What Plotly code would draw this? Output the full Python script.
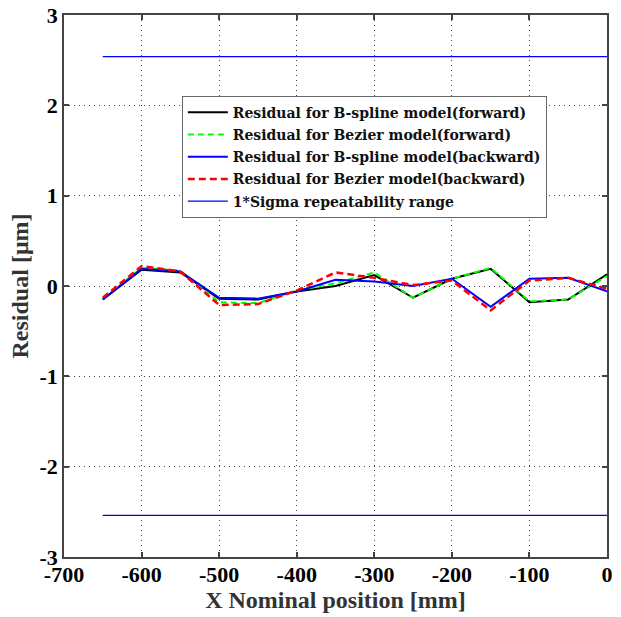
import plotly.graph_objects as go

x_pos = [-650, -600, -550, -500, -450, -400, -350, -300, -250, -200, -150, -100, -50, 0]
bspline_fwd = [-0.15, 0.18, 0.15, -0.14, -0.15, -0.06, 0.00, 0.12, -0.13, 0.08, 0.19, -0.18, -0.15, 0.13]
bezier_fwd = [-0.14, 0.20, 0.17, -0.18, -0.19, -0.05, 0.03, 0.15, -0.13, 0.08, 0.20, -0.17, -0.15, 0.11]
bspline_bwd = [-0.15, 0.19, 0.16, -0.13, -0.14, -0.06, 0.07, 0.05, 0.00, 0.08, -0.23, 0.08, 0.09, -0.06]
bezier_bwd = [-0.13, 0.22, 0.16, -0.21, -0.20, -0.05, 0.15, 0.09, 0.01, 0.06, -0.27, 0.06, 0.09, -0.03]
sigma_x = [-650, 0]
sigma_val = 2.54

x_ticks = [-700, -600, -500, -400, -300, -200, -100, 0]
x_tick_text = ["-700", "-600", "-500", "-400", "-300", "-200", "-100", "0"]
y_ticks = [-3, -2, -1, 0, 1, 2, 3]
y_tick_text = ["-3", "-2", "-1", "0", "1", "2", "3"]

names = [
    "Residual for B-spline model(forward)",
    "Residual for Bezier model(forward)",
    "Residual for B-spline model(backward)",
    "Residual for Bezier model(backward)",
    "1*Sigma repeatability range",
]

FONT = "Liberation Serif, Times New Roman, serif"
LEG_FONT = "DejaVu Serif, serif"

fig = go.Figure()
fig.add_trace(go.Scatter(x=x_pos, y=bspline_fwd, mode="lines", name=names[0], legendgroup="g1",
                         line=dict(color="#000000", width=2)))
fig.add_trace(go.Scatter(x=x_pos, y=bezier_fwd, mode="lines", name=names[1], legendgroup="g2",
                         line=dict(color="#00ff00", width=2, dash="6px,4px")))
fig.add_trace(go.Scatter(x=x_pos, y=bspline_bwd, mode="lines", name=names[2], legendgroup="g3",
                         line=dict(color="#0000ff", width=2)))
fig.add_trace(go.Scatter(x=x_pos, y=bezier_bwd, mode="lines", name=names[3], legendgroup="g4",
                         line=dict(color="#ff0000", width=2.5, dash="7px,4px")))
fig.add_trace(go.Scatter(x=sigma_x, y=[sigma_val, sigma_val], mode="lines", name=names[4],
                         legendgroup="g5", line=dict(color="#0000ff", width=1.2)))
fig.add_trace(go.Scatter(x=sigma_x, y=[-sigma_val, -sigma_val], mode="lines", name=names[4],
                         legendgroup="g5", showlegend=False, line=dict(color="#0000ff", width=1.2)))

axis_common = dict(
    showline=True, linecolor="#444444", linewidth=1.5, mirror="ticks",
    ticks="inside", ticklen=5, tickcolor="#444444", tickwidth=1.5,
    showgrid=True, gridcolor="#444444", gridwidth=1, griddash="1px,4px",
    zeroline=False, automargin=False,
    tickfont=dict(family=FONT, size=22, color="#000000", weight="bold"),
    title_font=dict(family=FONT, size=24, color="#333333", weight="bold"),
)

fig.update_layout(
    width=621, height=617,
    margin=dict(l=64, r=14, t=15, b=60),
    plot_bgcolor="white", paper_bgcolor="white",
    showlegend=True,
    legend=dict(
        x=0.217, y=0.851, xanchor="left", yanchor="top",
        bgcolor="white", bordercolor="#666666", borderwidth=1,
        font=dict(family=LEG_FONT, size=14, color="#111111", weight="bold"),
        itemwidth=40, traceorder="grouped", tracegroupgap=1,
    ),
    xaxis=dict(range=[-700, 0], tickvals=x_ticks, ticktext=x_tick_text, ticklabelstandoff=-3,
               title=dict(text="X Nominal position [mm]", standoff=0), **axis_common),
    yaxis=dict(range=[-3, 3], tickvals=y_ticks, ticktext=y_tick_text,
               title=dict(text="Residual [μm]", standoff=4), **axis_common),
)

fig.write_html("out.html")
